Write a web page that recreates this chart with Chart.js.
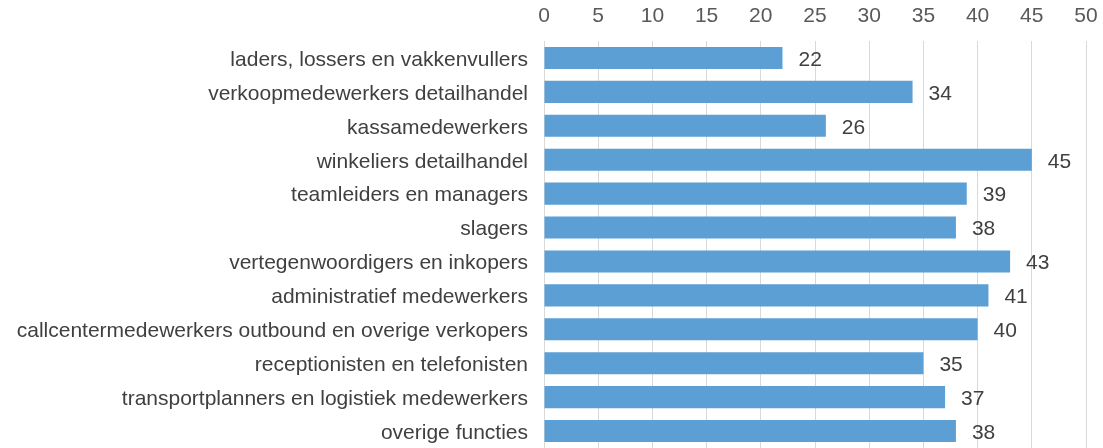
<!DOCTYPE html>
<html>
<head>
<meta charset="utf-8">
<script src="https://cdn.jsdelivr.net/npm/chart.js@4/dist/chart.umd.min.js"></script>
<style>
  html, body { margin: 0; padding: 0; background: #fff; }
  #wrap { width: 1103px; height: 448px; }
</style>
</head>
<body>
<div id="wrap"><canvas id="bar-chart"></canvas></div>
<script>
// data
var categories = [
    "laders, lossers en vakkenvullers",
    "verkoopmedewerkers detailhandel",
    "kassamedewerkers",
    "winkeliers detailhandel",
    "teamleiders en managers",
    "slagers",
    "vertegenwoordigers en inkopers",
    "administratief medewerkers",
    "callcentermedewerkers outbound en overige verkopers",
    "receptionisten en telefonisten",
    "transportplanners en logistiek medewerkers",
    "overige functies"
];
var values = [22, 34, 26, 45, 39, 38, 43, 41, 40, 35, 37, 38];
var axisMin = 0, axisMax = 50, axisStep = 5;

var FONT = '"Liberation Sans", Arial, sans-serif';

// simple value labels next to the bars
var valueLabels = {
    id: 'valueLabels',
    afterDatasetsDraw: function (chart) {
        var ctx = chart.ctx;
        var meta = chart.getDatasetMeta(0);
        ctx.save();
        ctx.font = '21px ' + FONT;
        ctx.fillStyle = '#404040';
        ctx.textAlign = 'left';
        ctx.textBaseline = 'middle';
        meta.data.forEach(function (bar, i) {
            ctx.fillText(values[i], bar.x + 16, bar.y + 2);
        });
        ctx.restore();
    }
};

function barChartDisplay() {
    new Chart(document.getElementById("bar-chart"), {
        type: 'bar',
        data: {
            labels: categories,
            datasets: [{
                data: values,
                backgroundColor: '#5b9fd4',
                barPercentage: 0.65,
                categoryPercentage: 1
            }]
        },
        options: {
            indexAxis: 'y',
            responsive: true,
            maintainAspectRatio: false,
            animation: false,
            layout: { padding: { left: 0, right: 17, top: 0, bottom: -1 } },
            plugins: {
                legend: { display: false },
                tooltip: { enabled: false }
            },
            scales: {
                x: {
                    position: 'top',
                    min: axisMin,
                    max: axisMax,
                    ticks: {
                        stepSize: axisStep,
                        color: '#595959',
                        font: { family: FONT, size: 21 },
                        padding: 12
                    },
                    grid: { color: '#d9d9d9', lineWidth: 1, drawTicks: false },
                    border: { display: false },
                    afterFit: function (scale) {
                        scale.height = 41;
                        scale.paddingLeft = 0;
                        scale.paddingRight = 0;
                    }
                },
                y: {
                    ticks: {
                        color: '#404040',
                        font: { family: FONT, size: 21 },
                        padding: 16,
                        labelOffset: 2
                    },
                    grid: { display: false, drawTicks: false },
                    border: { display: false },
                    afterFit: function (scale) {
                        scale.width = 544;
                        scale.paddingTop = 0;
                        scale.paddingBottom = 0;
                    }
                }
            }
        },
        plugins: [valueLabels]
    });
}

barChartDisplay();
</script>
</body>
</html>
